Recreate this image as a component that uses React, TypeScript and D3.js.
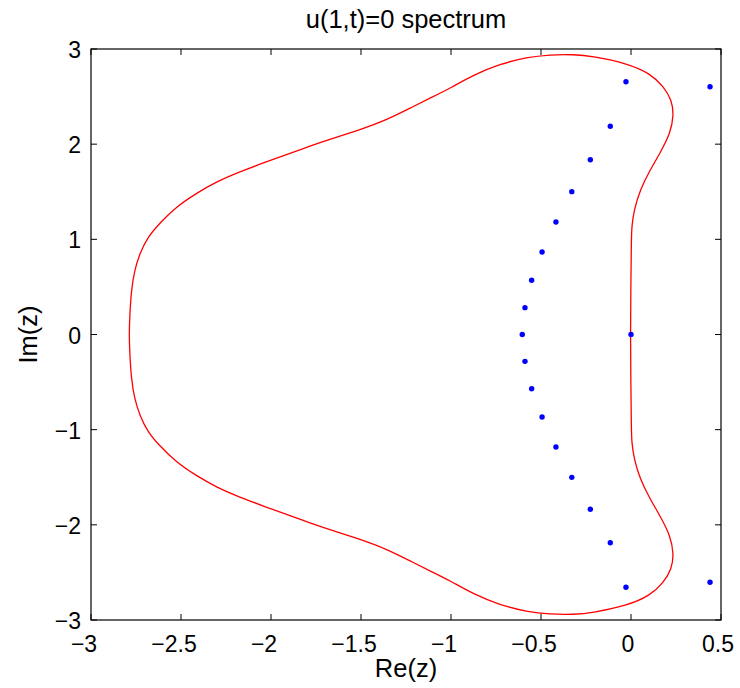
import React from "react";
import * as d3 from "d3";

const title = "u(1,t)=0 spectrum";
const xLabel = "Re(z)";
const yLabel = "Im(z)";
const xTicks = [-3, -2.5, -2, -1.5, -1, -0.5, 0, 0.5];
const yTicks = [-3, -2, -1, 0, 1, 2, 3];

// Eigenvalues (upper half; mirrored for conjugates)
const eigRe = [0, -0.604, -0.589, -0.552, -0.494, -0.417, -0.329, -0.226, -0.115, -0.028, 0.439];
const eigIm = [0, 0, 0.282, 0.57, 0.867, 1.182, 1.501, 1.837, 2.188, 2.656, 2.604];

// Boundary curve, upper half from left (Im=0) clockwise to right (Im=0)
const curveRe = [-2.788, -2.785, -2.776, -2.758, -2.729, -2.683, -2.619, -2.526, -2.415, -2.302, -2.172, -2.024, -1.894, -1.79, -1.672, -1.508, -1.357, -1.212, -1.1, -1.006, -0.876, -0.728, -0.579, -0.45, -0.321, -0.209, -0.024, 0.106, 0.182, 0.226, 0.238, 0.219, 0.161, 0.106, 0.05, 0.017, 0.004, 0.002, -0.001, -0.003];
const curveIm = [0, 0.187, 0.468, 0.678, 0.853, 1.028, 1.169, 1.343, 1.484, 1.606, 1.711, 1.816, 1.904, 1.975, 2.051, 2.149, 2.254, 2.394, 2.499, 2.587, 2.727, 2.842, 2.913, 2.94, 2.944, 2.922, 2.85, 2.745, 2.604, 2.464, 2.307, 2.114, 1.904, 1.729, 1.518, 1.308, 1.133, 0.993, 0.47, 0];

const W = 740, H = 688;
const L = 91, T = 49, PW = 630, PH = 571;

const fmt = (t: number) => (t < 0 ? "\u2212" + String(-t) : String(t));

export default function App() {
  const x = d3.scaleLinear().domain([-3, 0.5]).range([L, L + PW]);
  const y = d3.scaleLinear().domain([-3, 3]).range([T + PH, T]);

  const upper: [number, number][] = curveRe.map((r, i) => [r, curveIm[i]]);
  const lower: [number, number][] = upper.slice(1, -1).reverse().map(([r, im]) => [r, -im]);
  const loop = [...upper, ...lower];
  const lineGen = d3.line<[number, number]>().x(d => x(d[0])).y(d => y(d[1])).curve(d3.curveBasisClosed);
  const path = lineGen(loop) || "";

  const pts: [number, number][] = [];
  eigRe.forEach((r, i) => {
    pts.push([r, eigIm[i]]);
    if (eigIm[i] !== 0) pts.push([r, -eigIm[i]]);
  });

  const font = "'Liberation Sans', Arial, Helvetica, sans-serif";
  const tl = 6;
  return (
    <svg width={W} height={H} style={{ position: "absolute", left: 0, top: 0, background: "#fff" }} fontFamily={font}>
      <rect x={0} y={0} width={W} height={H} fill="#fff" />
      <defs>
        <clipPath id="clip"><rect x={L} y={T} width={PW} height={PH} /></clipPath>
      </defs>
      <g clipPath="url(#clip)">
        <path d={path} fill="none" stroke="#ff0000" strokeWidth={1.3} />
        {pts.map((p, i) => (
          <circle key={i} cx={x(p[0])} cy={y(p[1])} r={2.7} fill="#0000ff" />
        ))}
      </g>
      <rect x={L} y={T} width={PW} height={PH} fill="none" stroke="#000" strokeWidth={1.2} />
      {xTicks.map(t => (
        <g key={"x" + t}>
          <line x1={x(t)} x2={x(t)} y1={T + PH} y2={T + PH - tl} stroke="#000" strokeWidth={1} />
          <line x1={x(t)} x2={x(t)} y1={T} y2={T + tl} stroke="#000" strokeWidth={1} />
          <text x={x(t) - (t < 0 ? 7 : 3)} y={T + PH + 32} fontSize={23} textAnchor="middle" fill="#000">
            {fmt(t)}
          </text>
        </g>
      ))}
      {yTicks.map(t => (
        <g key={"y" + t}>
          <line x1={L} x2={L + tl} y1={y(t)} y2={y(t)} stroke="#000" strokeWidth={1} />
          <line x1={L + PW} x2={L + PW - tl} y1={y(t)} y2={y(t)} stroke="#000" strokeWidth={1} />
          <text x={L - 10} y={y(t) + 9} fontSize={23} textAnchor="end" fill="#000">
            {fmt(t)}
          </text>
        </g>
      ))}
      <text x={L + PW / 2} y={28} fontSize={25.5} textAnchor="middle" fill="#000">{title}</text>
      <text x={L + PW / 2} y={677} fontSize={25.5} textAnchor="middle" fill="#000">{xLabel}</text>
      <text transform={`translate(37, ${T + PH / 2}) rotate(-90)`} fontSize={25.5} textAnchor="middle" fill="#000">{yLabel}</text>
    </svg>
  );
}
